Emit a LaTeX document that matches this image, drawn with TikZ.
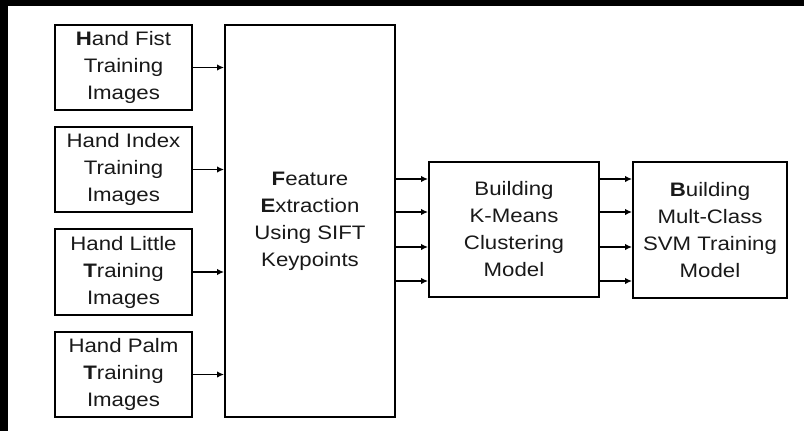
\documentclass[tikz,border=0pt]{standalone}
\usepackage{fontspec}
\setmainfont{Liberation Sans}[FakeStretch=1.14]
\usetikzlibrary{arrows.meta}
\begin{document}
\begin{tikzpicture}[x=1pt,y=-1pt,
  blk/.style={draw=black,line width=2pt,fill=white,inner sep=0pt,align=center,
    font=\fontsize{19.5}{27}\selectfont,text=black!90},
  arr/.style={line width=1.8pt,-{Latex[length=7pt,width=6.5pt]}}]
\useasboundingbox (0,0) rectangle (804,431);
\fill[white] (0,0) rectangle (804,431);
\fill[black] (0,0) rectangle (804,6);
\fill[black] (0,0) rectangle (8,431);
\node[blk,minimum width=137pt,minimum height=85pt] (fist) at (123.5,67.5) {\textbf{H}and Fist\\Training\\Images};
\node[blk,minimum width=137pt,minimum height=85pt] (index) at (123.5,169.5) {Hand Index\\Training\\Images};
\node[blk,minimum width=137pt,minimum height=86pt] (little) at (123.5,272) {Hand Little\\\textbf{T}raining\\Images};
\node[blk,minimum width=137pt,minimum height=85pt] (palm) at (123.5,374.5) {Hand Palm\\\textbf{T}raining\\Images};
\node[blk,minimum width=170pt,minimum height=392pt] (feat) at (310,221) {\textbf{F}eature\\\textbf{E}xtraction\\Using SIFT\\Keypoints};
\node[blk,minimum width=170pt,minimum height=135pt] (km) at (514,229.5) {Building\\K-Means\\Clustering\\Model};
\node[blk,minimum width=154pt,minimum height=136pt] (svm) at (710,230) {\textbf{B}uilding\\Mult-Class\\SVM Training\\Model};
\foreach \n in {fist,index,little,palm}
  \draw[arr] (\n.east) -- (feat.west |- \n.east);
\coordinate (k1) at ([yshift=50.5pt]km.west);
\coordinate (k2) at ([yshift=17.5pt]km.west);
\coordinate (k3) at ([yshift=-17.5pt]km.west);
\coordinate (k4) at ([yshift=-51.5pt]km.west);
\foreach \k in {k1,k2,k3,k4} {
  \draw[arr] (feat.east |- \k) -- (\k);
  \draw[arr] (km.east |- \k) -- (svm.west |- \k);
}
\end{tikzpicture}
\end{document}
